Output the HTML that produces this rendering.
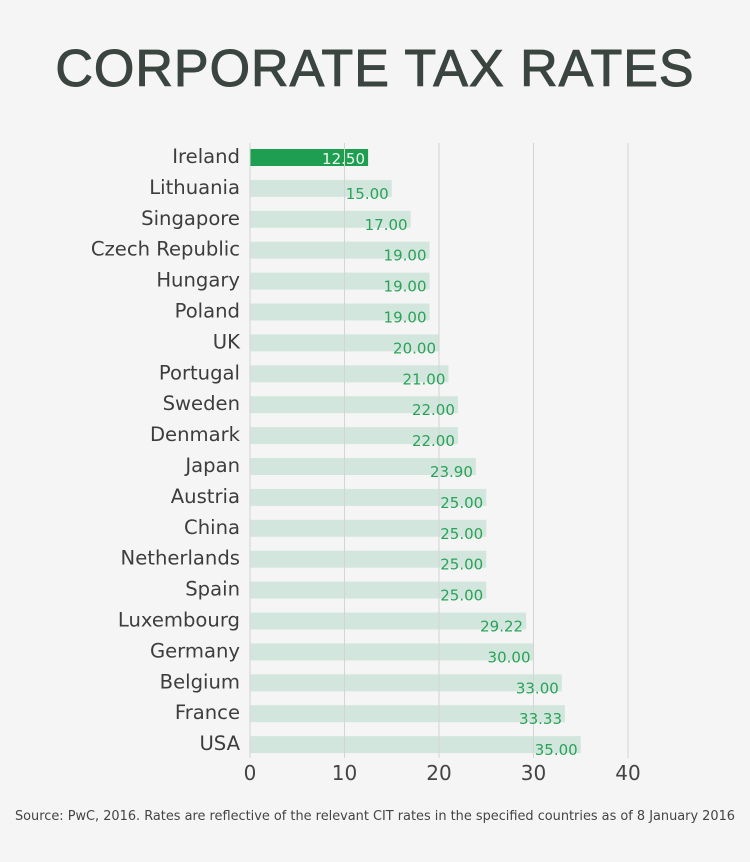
<!DOCTYPE html>
<html><head><meta charset="utf-8"><style>
body{margin:0;background:#f5f5f5;}
svg{display:block;font-family:"DejaVu Sans","Liberation Sans",sans-serif;}
</style></head><body>
<svg width="750" height="862" xmlns="http://www.w3.org/2000/svg">
<rect width="750" height="862" fill="#f5f5f5"/>
<text x="375" y="86" text-anchor="middle" font-size="52" fill="#3b4540" stroke="#3b4540" stroke-width="1" font-family="Liberation Sans, sans-serif" letter-spacing="1">CORPORATE TAX RATES</text>
<g fill="#d3e6de">
<rect x="250" y="149" width="118.1" height="17" fill="#1e9e50"/>
<rect x="250" y="179.9" width="141.75" height="17"/>
<rect x="250" y="210.8" width="160.65" height="17"/>
<rect x="250" y="241.7" width="179.55" height="17"/>
<rect x="250" y="272.6" width="179.55" height="17"/>
<rect x="250" y="303.5" width="179.55" height="17"/>
<rect x="250" y="334.4" width="189" height="17"/>
<rect x="250" y="365.3" width="198.45" height="17"/>
<rect x="250" y="396.2" width="207.9" height="17"/>
<rect x="250" y="427.1" width="207.9" height="17"/>
<rect x="250" y="458" width="225.86" height="17"/>
<rect x="250" y="488.9" width="236.25" height="17"/>
<rect x="250" y="519.8" width="236.25" height="17"/>
<rect x="250" y="550.7" width="236.25" height="17"/>
<rect x="250" y="581.6" width="236.25" height="17"/>
<rect x="250" y="612.5" width="276.13" height="17"/>
<rect x="250" y="643.4" width="283.5" height="17"/>
<rect x="250" y="674.3" width="311.85" height="17"/>
<rect x="250" y="705.2" width="314.97" height="17"/>
<rect x="250" y="736.1" width="330.75" height="17"/>
</g>
<g stroke="#d4d4d4" stroke-width="1">
<line x1="250" y1="143" x2="250" y2="758"/>
<line x1="344.5" y1="143" x2="344.5" y2="758"/>
<line x1="439" y1="143" x2="439" y2="758"/>
<line x1="533.5" y1="143" x2="533.5" y2="758"/>
<line x1="628" y1="143" x2="628" y2="758"/>
</g>
<g font-size="19.6" fill="#3d3d3d" text-anchor="end">
<text x="240" y="163">Ireland</text>
<text x="240" y="193.9">Lithuania</text>
<text x="240" y="224.8">Singapore</text>
<text x="240" y="255.7">Czech Republic</text>
<text x="240" y="286.6">Hungary</text>
<text x="240" y="317.5">Poland</text>
<text x="240" y="348.4">UK</text>
<text x="240" y="379.3">Portugal</text>
<text x="240" y="410.2">Sweden</text>
<text x="240" y="441.1">Denmark</text>
<text x="240" y="472">Japan</text>
<text x="240" y="502.9">Austria</text>
<text x="240" y="533.8">China</text>
<text x="240" y="564.7">Netherlands</text>
<text x="240" y="595.6">Spain</text>
<text x="240" y="626.5">Luxembourg</text>
<text x="240" y="657.4">Germany</text>
<text x="240" y="688.3">Belgium</text>
<text x="240" y="719.2">France</text>
<text x="240" y="750.1">USA</text>
</g>
<g font-size="15" fill="#2aa258" text-anchor="end">
<text x="365" y="164" fill="#eef7f1">12.50</text>
<text x="388.7" y="198.9">15.00</text>
<text x="407.6" y="229.8">17.00</text>
<text x="426.5" y="260.7">19.00</text>
<text x="426.5" y="291.6">19.00</text>
<text x="426.5" y="322.5">19.00</text>
<text x="436" y="353.4">20.00</text>
<text x="445.4" y="384.3">21.00</text>
<text x="454.9" y="415.2">22.00</text>
<text x="454.9" y="446.1">22.00</text>
<text x="472.9" y="477">23.90</text>
<text x="483.2" y="507.9">25.00</text>
<text x="483.2" y="538.8">25.00</text>
<text x="483.2" y="569.7">25.00</text>
<text x="483.2" y="600.6">25.00</text>
<text x="523.1" y="631.5">29.22</text>
<text x="530.5" y="662.4">30.00</text>
<text x="558.8" y="693.3">33.00</text>
<text x="562" y="724.2">33.33</text>
<text x="577.7" y="755.1">35.00</text>
</g>
<g font-size="20" fill="#444" text-anchor="middle">
<text x="250" y="780">0</text><text x="344.5" y="780">10</text><text x="439" y="780">20</text><text x="533.5" y="780">30</text><text x="628" y="780">40</text>
</g>
<text x="375" y="820" text-anchor="middle" font-size="12.9" fill="#444">Source: PwC, 2016. Rates are reflective of the relevant CIT rates in the specified countries as of 8 January 2016</text>
</svg>
</body></html>
